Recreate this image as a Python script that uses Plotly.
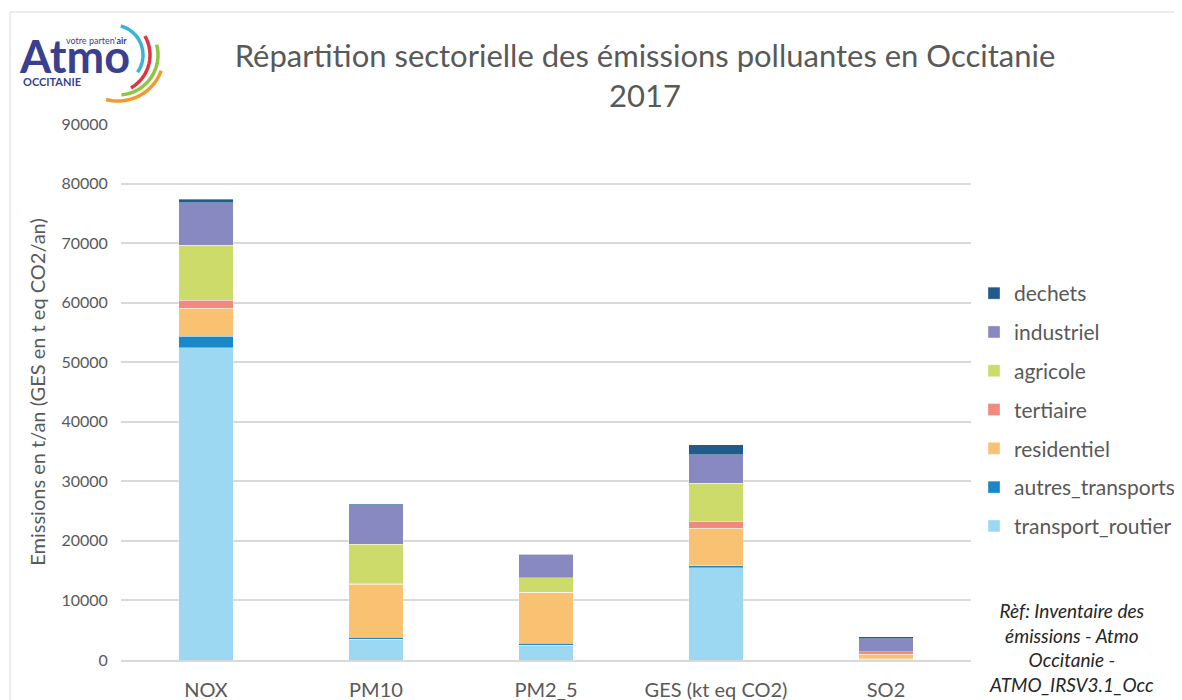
import numpy as np
import plotly.graph_objects as go

# Data (t/an, GES en kt eq CO2)
polluants = ["NOX", "PM10", "PM2_5", "GES (kt eq CO2)", "SO2"]
transport_routier = [52400, 3500, 2500, 15500, 100]
autres_transports = [2000, 350, 300, 300, 150]
residentiel = [4700, 8850, 8550, 6330, 700]
tertiaire = [1340, 100, 50, 1100, 450]
agricole = [9240, 6600, 2450, 6450, 0]
industriel = [7100, 6700, 3900, 4750, 2200]
dechets = [600, 150, 100, 1700, 300]

secteurs = [
    ("transport_routier", transport_routier, "#9dd8f2"),
    ("autres_transports", autres_transports, "#1a87c6"),
    ("residentiel", residentiel, "#f9c272"),
    ("tertiaire", tertiaire, "#f08a80"),
    ("agricole", agricole, "#cddb6a"),
    ("industriel", industriel, "#8889c1"),
    ("dechets", dechets, "#235a8c"),
]

OFF = 8  # page body margin
W, H = 1174, 692
L, T = 113, 116
pw, ph = 850, 536
R, B = W - L - pw, H - T - ph


def px(x, y):
    # screenshot pixel -> paper coords (decoration placement only)
    return (x - OFF - L) / pw, (H - B - (y - OFF)) / ph


fig = go.Figure()
for i, (nom, vals, col) in enumerate(secteurs):
    fig.add_trace(go.Bar(
        x=polluants, y=vals, name=nom,
        marker=dict(color=col, line=dict(width=0.6, color="rgba(255,255,255,0.6)")),
        width=0.32, legendgroup=nom, legendrank=100 - i,
    ))

# frame
x0, y1 = px(10, 12)
x1, y0 = px(1200, 720)
shapes = [dict(type="rect", xref="paper", yref="paper", x0=x0, x1=x1, y0=y0, y1=y1,
               line=dict(color="#d9d9d9", width=1), layer="below")]

# logo arcs: centre x, centre y, radius, start/end angle, colour
arcs = [
    (113, 55, 30, -75, 35, "#3bb3d6"),
    (112, 55, 38, -30, 60, "#e2343f"),
    (118, 55, 40, -15, 85, "#8dc63f"),
    (118, 55, 46, 20, 105, "#f39a2b"),
]
for cx, cy, r, a0, a1, col in arcs:
    t = np.radians(np.linspace(a0, a1, 30))
    pts = [px(cx + r * np.cos(a), cy + r * np.sin(a)) for a in t]
    path = "M " + " L ".join(f"{a:.5f},{b:.5f}" for a, b in pts)
    shapes.append(dict(type="path", xref="paper", yref="paper", path=path,
                       line=dict(color=col, width=3.5)))

annotations = []
ax, ay = px(17, 56)
annotations.append(dict(text="<b>Atmo</b>", xref="paper", yref="paper", x=ax, y=ay,
                        xanchor="left", yanchor="middle", showarrow=False,
                        font=dict(family="Lato", size=45, color="#3a3f8f")))
ax, ay = px(129, 40)
annotations.append(dict(text="votre parten'<b>air</b>", xref="paper", yref="paper", x=ax, y=ay,
                        xanchor="right", yanchor="middle", showarrow=False,
                        font=dict(family="Lato", size=9, color="#3a3f8f")))
ax, ay = px(21, 82)
annotations.append(dict(text="<b>OCCITANIE</b>", xref="paper", yref="paper", x=ax, y=ay,
                        xanchor="left", yanchor="middle", showarrow=False,
                        font=dict(family="Lato", size=11, color="#3a3f8f")))
ax, ay = px(1071, 647)
annotations.append(dict(text="<i>Rèf: Inventaire des<br>émissions - Atmo<br>Occitanie -<br>ATMO_IRSV3.1_Occ</i>",
                        xref="paper", yref="paper", x=ax, y=ay, xanchor="center", yanchor="middle",
                        showarrow=False, align="center",
                        font=dict(family="Lato", size=19, color="#262626")))

lx, ly = px(974, 273)
fig.update_layout(
    width=W, height=H,
    margin=dict(l=L, r=R, t=T, b=B, autoexpand=False),
    paper_bgcolor="white", plot_bgcolor="white",
    barmode="stack",
    font=dict(family="Lato", color="#595959"),
    title=dict(text="Répartition sectorielle des émissions polluantes en Occitanie<br>2017",
               x=(645 - OFF) / W, xanchor="center", y=1 - (67 - OFF) / H, yanchor="middle",
               font=dict(family="Lato", size=31, color="#595959")),
    xaxis=dict(tickfont=dict(size=20, color="#595959"), showline=True,
               linecolor="#d9d9d9", linewidth=1.5, ticks="outside", ticklen=11,
               tickcolor="white", automargin=False),
    yaxis=dict(range=[0, 90000], dtick=10000, tickformat="d",
               gridcolor="#d9d9d9", gridwidth=1.5, zeroline=False,
               tickfont=dict(size=16, color="#595959"), ticks="outside",
               ticklen=9, tickcolor="white", automargin=False,
               title=dict(text="Emissions en t/an (GES en t eq CO2/an)",
                          font=dict(size=20, color="#595959"), standoff=10)),
    legend=dict(x=lx, y=ly, xanchor="left", yanchor="top",
                traceorder="grouped", tracegroupgap=8.5,
                font=dict(size=21, color="#595959"), itemwidth=30),
    shapes=shapes,
    annotations=annotations,
)

fig.write_html("out.html")
